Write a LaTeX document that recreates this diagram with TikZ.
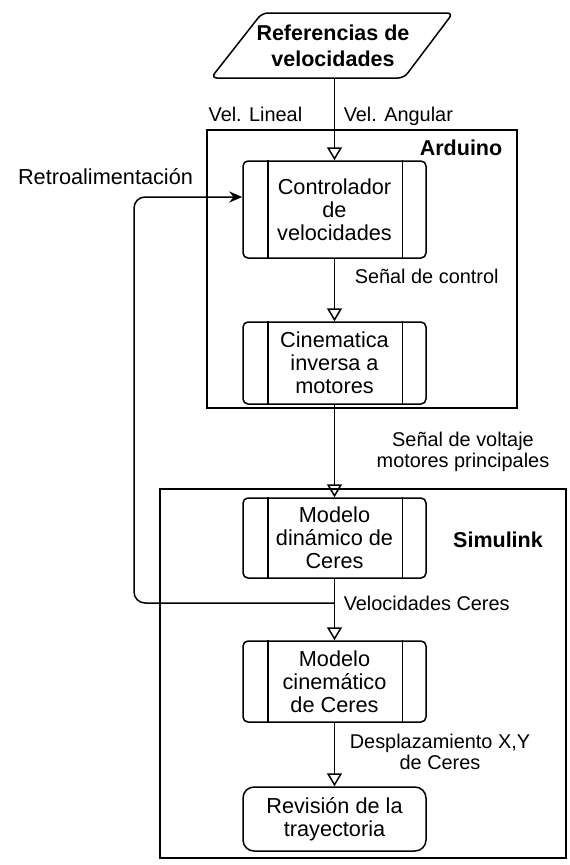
\documentclass[tikz,border=0pt]{standalone}
\usepackage{fontspec}
\setmainfont{Liberation Sans}
\usetikzlibrary{arrows.meta}
\newcommand\boxfont{\fontsize{21.7}{23}\selectfont}
\newcommand\lblfont{\fontsize{19.9}{21}\selectfont}
\newcommand\ttlfont{\bfseries\fontsize{21.5}{26}\selectfont}
\begin{document}
\begin{tikzpicture}[x=1pt,y=-1pt,line width=1.5pt,
  proc/.style={draw,rectangle,rounded corners=5pt,minimum width=183pt,align=center,font=\boxfont,inner sep=0pt},
  endbox/.style={draw,rectangle,rounded corners=11pt,minimum width=183pt,align=center,font=\boxfont,inner sep=0pt},
  lbl/.style={font=\lblfont,inner sep=0pt},
  ttl/.style={font=\ttlfont,inner sep=0pt,align=center},
  flow/.style={-{Triangle[open,length=13pt,width=15pt]}},
  fb/.style={-{Stealth[length=13pt,width=11pt]},rounded corners=11pt}]
\useasboundingbox (0,0) rectangle (570,865);

% containers
\draw (207,130) rectangle (517,408);
\draw (160,489) rectangle (566,858);

% reference parallelogram
\node[ttl,minimum width=190pt,minimum height=65pt] (ref) at (333,45.5) {Referencias de\\velocidades};
\draw[rounded corners=6pt] (211,78) -- (262,13) -- (453,13) -- (404,78) -- cycle;

% process boxes
\node[proc,minimum height=97pt] (ctrl) at (334.5,209.5) {Controlador\\de\\velocidades};
\node[proc,minimum height=82pt] (cin) at (334.5,363) {Cinematica\\inversa a\\motores};
\node[proc,minimum height=80pt] (dyn) at (334.5,538) {Modelo\\dinámico de\\Ceres};
\node[proc,minimum height=81pt] (kin) at (334.5,681.5) {Modelo\\cinemático\\de Ceres};
\node[endbox,minimum height=64pt] (rev) at (334.5,819) {Revisión de la\\trayectoria};

\foreach \n in {ctrl,cin,dyn,kin}{
  \draw ([xshift=25.5pt]\n.north west) -- ([xshift=25.5pt]\n.south west);
  \draw ([xshift=-24.5pt]\n.north east) -- ([xshift=-24.5pt]\n.south east);
}

% connectors
\draw[flow] (ctrl.north |- ref.south) -- (ctrl.north);
\draw[flow] (ctrl.south) -- (cin.north);
\draw[flow] (cin.south) -- (dyn.north);
\draw[flow] (dyn.south) -- (kin.north);
\draw[flow] (kin.south) -- (rev.north);
\coordinate (j) at (334.5,603);
\coordinate (c1) at (134,603);
\coordinate (c2) at (134,197);
\draw[fb] (j) -- (c1) -- (c2) -- (ctrl.west |- c2);

% labels
\node[lbl,anchor=base east] (vl) at (303,121) {Vel. Lineal};
\node[lbl,anchor=base west] (va) at (343,121) {Vel. Angular};
\node[ttl,anchor=base east] (ard) at (503,155) {Arduino};
\node[lbl,font=\boxfont,anchor=base] (retro) at (105.5,184.5) {Retroalimentación};
\node[lbl,anchor=base west] (sc) at (354,283) {Señal de control};
\node[lbl,align=center] (sv) at (463,452) {Señal de voltaje\\motores principales};
\node[ttl] (sim) at (498,540) {Simulink};
\node[lbl,anchor=base west] (vc) at (343,610) {Velocidades Ceres};
\node[lbl,align=center] (dx) at (440,752) {Desplazamiento X,Y\\de Ceres};
\end{tikzpicture}
\end{document}
